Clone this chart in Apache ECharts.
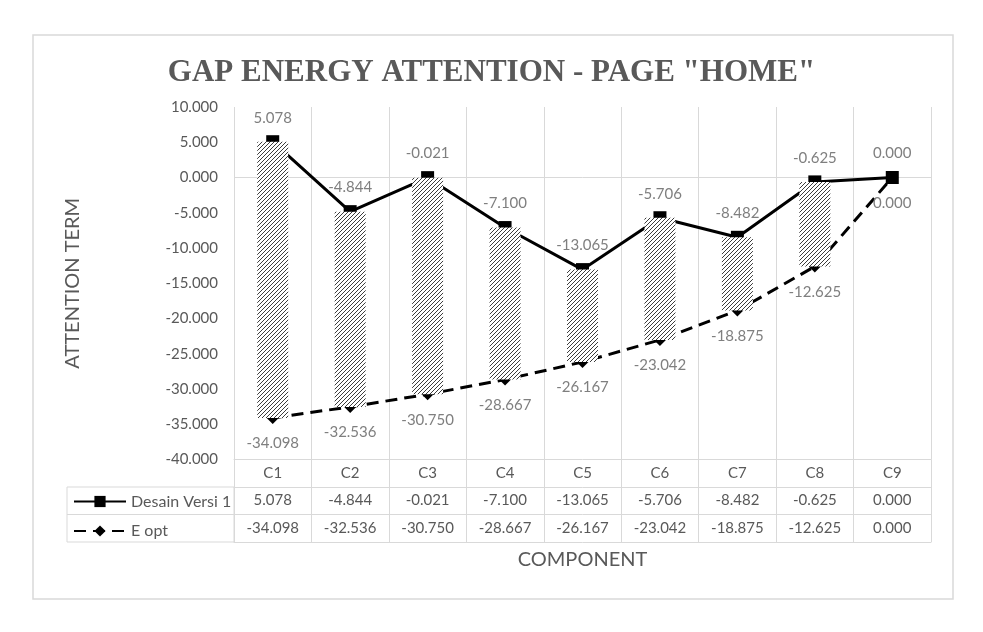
<!DOCTYPE html>
<html>
<head>
<meta charset="utf-8">
<script src="https://cdn.jsdelivr.net/npm/echarts@6/dist/echarts.min.js"></script>
<style>
  html, body { margin: 0; padding: 0; background: #fff; }
  #main { width: 983px; height: 632px; }
</style>
</head>
<body>
<div id="main"></div>
<script>
// data
var categories = ['C1', 'C2', 'C3', 'C4', 'C5', 'C6', 'C7', 'C8', 'C9'];
var desainVersi1 = [5.078, -4.844, -0.021, -7.100, -13.065, -5.706, -8.482, -0.625, 0.000];
var eOpt = [-34.098, -32.536, -30.750, -28.667, -26.167, -23.042, -18.875, -12.625, 0.000];

function fmt(v) { return Number(v).toFixed(3); }

// hatch pattern for the gap bars
var hatch = document.createElement('canvas');
hatch.width = 8; hatch.height = 8;
var hc = hatch.getContext('2d');
hc.fillStyle = '#fff';
hc.fillRect(0, 0, 8, 8);
hc.strokeStyle = '#3c3c3c';
hc.lineWidth = 1;
hc.beginPath();
[0, 4, 8, 12, 16].forEach(function (c) {
    hc.moveTo(c, 0);
    hc.lineTo(c - 8, 8);
});
hc.stroke();

var gridColor = '#d9d9d9';
var txtColor = '#595959';
var font = 'Lato, "Open Sans", sans-serif';

var chart = echarts.init(document.getElementById('main'));

var option = {
    backgroundColor: '#fff',
    animation: false,
    textStyle: { fontFamily: font },
    title: {
        text: 'GAP ENERGY ATTENTION - PAGE "HOME"',
        left: 'center',
        top: 52,
        textStyle: {
            fontFamily: '"Liberation Serif", "DejaVu Serif", serif',
            fontWeight: 'bold',
            fontSize: 31,
            color: txtColor
        }
    },
    legend: {
        data: ['Desain Versi 1', 'E opt'],
        orient: 'vertical',
        left: 73,
        top: 493.5,
        padding: 0,
        itemWidth: 52,
        itemHeight: 14,
        itemGap: 13.5,
        textStyle: { fontSize: 16, color: txtColor, fontFamily: font }
    },
    grid: {
        left: 234,
        right: 52,
        top: 107,
        bottom: 172.5,
        containLabel: false
    },
    xAxis: [
        {
            type: 'category',
            data: categories,
            position: 'bottom',
            offset: 0,
            axisLine: { onZero: false, lineStyle: { color: gridColor } },
            axisTick: { show: true, interval: 0, length: 82.5, lineStyle: { color: gridColor } },
            axisLabel: { interval: 0, margin: 6, fontSize: 15, color: txtColor },
            splitLine: { show: true, interval: 0, lineStyle: { color: gridColor } }
        },
        {
            type: 'category',
            data: desainVersi1.map(fmt),
            position: 'bottom',
            offset: 27.5,
            axisLine: { onZero: false, lineStyle: { color: gridColor } },
            axisTick: { show: false },
            axisLabel: { interval: 0, margin: 6, fontSize: 15, color: txtColor }
        },
        {
            type: 'category',
            data: eOpt.map(fmt),
            position: 'bottom',
            offset: 55,
            axisLine: { onZero: false, lineStyle: { color: gridColor } },
            axisTick: { show: false },
            axisLabel: { interval: 0, margin: 6, fontSize: 15, color: txtColor }
        },
        {
            type: 'category',
            data: categories,
            position: 'bottom',
            offset: 82.5,
            axisLine: { onZero: false, lineStyle: { color: gridColor } },
            axisTick: { show: false },
            axisLabel: { show: false },
            name: 'COMPONENT',
            nameLocation: 'middle',
            nameGap: 8,
            nameTextStyle: { fontSize: 20, color: txtColor, fontFamily: font }
        }
    ],
    yAxis: {
        type: 'value',
        min: -40,
        max: 10,
        interval: 5,
        name: 'ATTENTION TERM',
        nameLocation: 'middle',
        nameRotate: 90,
        nameGap: 151,
        nameTextStyle: { fontSize: 20, color: txtColor, fontFamily: font },
        axisLine: { show: false },
        axisTick: { show: false },
        splitLine: { show: false },
        axisLabel: {
            margin: 16,
            fontSize: 15,
            color: txtColor,
            formatter: function (v) { return fmt(v); }
        }
    },
    graphic: [
        {
            type: 'rect',
            shape: { x: 33, y: 35, width: 920, height: 564 },
            style: { fill: 'none', stroke: gridColor, lineWidth: 1.5 },
            silent: true, z: -1
        },
        {
            type: 'rect',
            shape: { x: 67, y: 487, width: 167, height: 55 },
            style: { fill: 'none', stroke: gridColor, lineWidth: 1 },
            silent: true
        },
        {
            type: 'line',
            shape: { x1: 67, y1: 514.5, x2: 234, y2: 514.5 },
            style: { stroke: gridColor, lineWidth: 1 },
            silent: true
        }
    ],
    series: [
        {
            name: 'Desain Versi 1',
            type: 'line',
            z: 2,
            data: desainVersi1,
            symbol: 'rect',
            symbolSize: 13,
            itemStyle: { color: '#000' },
            lineStyle: { color: '#000', width: 3 },
            label: {
                show: true,
                position: 'top',
                distance: 10,
                fontSize: 15,
                color: '#7f7f7f',
                formatter: function (p) { return fmt(p.value); }
            },
            markLine: {
                silent: true,
                z: 1,
                symbol: 'none',
                label: { show: false },
                lineStyle: { color: gridColor, type: 'solid', width: 1 },
                data: [{ yAxis: 0 }]
            }
        },
        {
            name: 'E opt',
            type: 'line',
            z: 2,
            data: eOpt,
            symbol: 'diamond',
            symbolSize: 12,
            itemStyle: { color: '#000' },
            lineStyle: { color: '#000', width: 3, type: [12, 7] },
            label: {
                show: true,
                position: 'bottom',
                distance: 12,
                fontSize: 15,
                color: '#7f7f7f',
                formatter: function (p) { return fmt(p.value); }
            }
        },
        {
            type: 'custom',
            z: 3,
            data: categories.map(function (c, i) { return [i, desainVersi1[i], eOpt[i]]; }),
            encode: { x: 0, y: [1, 2] },
            renderItem: function (params, api) {
                var i = api.value(0);
                var hi = api.coord([i, api.value(1)]);
                var lo = api.coord([i, api.value(2)]);
                var w = api.size([1, 0])[0] * 0.4;
                return {
                    type: 'rect',
                    shape: {
                        x: hi[0] - w / 2,
                        y: Math.min(hi[1], lo[1]),
                        width: w,
                        height: Math.abs(lo[1] - hi[1])
                    },
                    style: { fill: { image: hatch, repeat: 'repeat' } }
                };
            }
        }
    ]
};

chart.setOption(option);
</script>
</body>
</html>
